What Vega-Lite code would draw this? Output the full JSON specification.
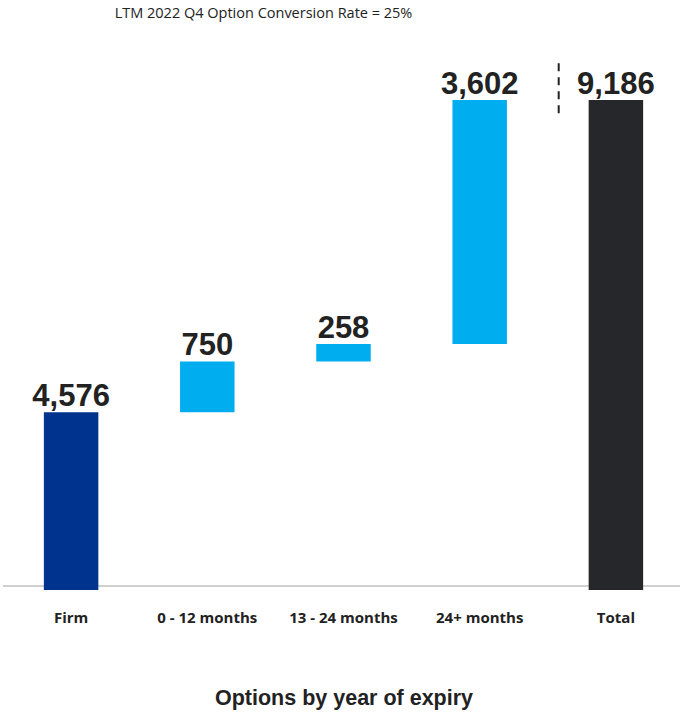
{
  "$schema": "https://vega.github.io/schema/vega-lite/v6.json",
  "autosize": "none",
  "width": 681,
  "height": 545,
  "padding": {"left": 3, "top": 45, "right": 0, "bottom": 122},
  "background": "white",
  "title": {
    "text": "LTM 2022 Q4 Option Conversion Rate = 25%",
    "font": "Open Sans",
    "fontSize": 14.5,
    "fontWeight": "normal",
    "color": "#222222",
    "anchor": "middle",
    "dx": -80,
    "offset": 24
  },
  "config": {"view": {"stroke": null}},
  "datasets": {
    "bars": [
      {"category": "Firm", "start": 0, "end": 4576, "label": "4,576", "kind": "Firm"},
      {"category": "0 - 12 months", "start": 4576, "end": 5326, "label": "750", "kind": "Option"},
      {"category": "13 - 24 months", "start": 5326, "end": 5584, "label": "258", "kind": "Option"},
      {"category": "24+ months", "start": 5584, "end": 9186, "label": "3,602", "kind": "Option"},
      {"category": "Total", "start": 0, "end": 9186, "label": "9,186", "kind": "Total"}
    ],
    "divider": [{"category": "Total", "y1": 9730, "y2": 8930}],
    "baseline": [{"value": 2010}]
  },
  "layer": [
    {
      "data": {"name": "baseline"},
      "mark": {"type": "rule", "color": "#d0d0d0", "strokeWidth": 2},
      "encoding": {
        "y": {"field": "value", "type": "quantitative", "axis": null, "scale": {"domain": [1950, 10000], "nice": false, "zero": false}}
      }
    },
    {
      "data": {"name": "bars"},
      "mark": {"type": "bar", "clip": true},
      "encoding": {
        "x": {
          "field": "category",
          "type": "nominal",
          "sort": null,
          "scale": {"domain": ["Firm", "0 - 12 months", "13 - 24 months", "24+ months", "Total"], "paddingInner": 0.6, "paddingOuter": 0.3},
          "axis": {
            "title": "Options by year of expiry",
            "titleFont": "Liberation Sans",
            "titleFontSize": 21.5,
            "titleFontWeight": "bold",
            "titleColor": "#222222",
            "titlePadding": 62,
            "labelFont": "Open Sans",
            "labelFontSize": 15,
            "labelFontWeight": "bold",
            "labelColor": "#222222",
            "labelAngle": 0,
            "labelPadding": 20,
            "ticks": false,
            "domain": false
          }
        },
        "y": {"field": "start", "type": "quantitative", "axis": null, "scale": {"domain": [1950, 10000], "nice": false, "zero": false}},
        "y2": {"field": "end"},
        "color": {
          "field": "kind",
          "type": "nominal",
          "legend": null,
          "scale": {"domain": ["Firm", "Option", "Total"], "range": ["#00338d", "#00aeef", "#26272b"]}
        }
      }
    },
    {
      "data": {"name": "bars"},
      "mark": {"type": "text", "font": "Liberation Sans", "fontSize": 31, "fontWeight": "bold", "color": "#222222", "baseline": "alphabetic", "dy": -6},
      "encoding": {
        "x": {"field": "category", "type": "nominal", "sort": null},
        "y": {"field": "end", "type": "quantitative", "axis": null, "scale": {"domain": [1950, 10000], "nice": false, "zero": false}},
        "text": {"field": "label"}
      }
    },
    {
      "data": {"name": "divider"},
      "mark": {"type": "rule", "color": "#222222", "strokeWidth": 2, "strokeDash": [8, 6]},
      "encoding": {
        "x": {"field": "category", "type": "nominal", "sort": null, "bandPosition": -0.55},
        "y": {"field": "y1", "type": "quantitative", "axis": null, "scale": {"domain": [1950, 10000], "nice": false, "zero": false}},
        "y2": {"field": "y2"}
      }
    }
  ]
}
